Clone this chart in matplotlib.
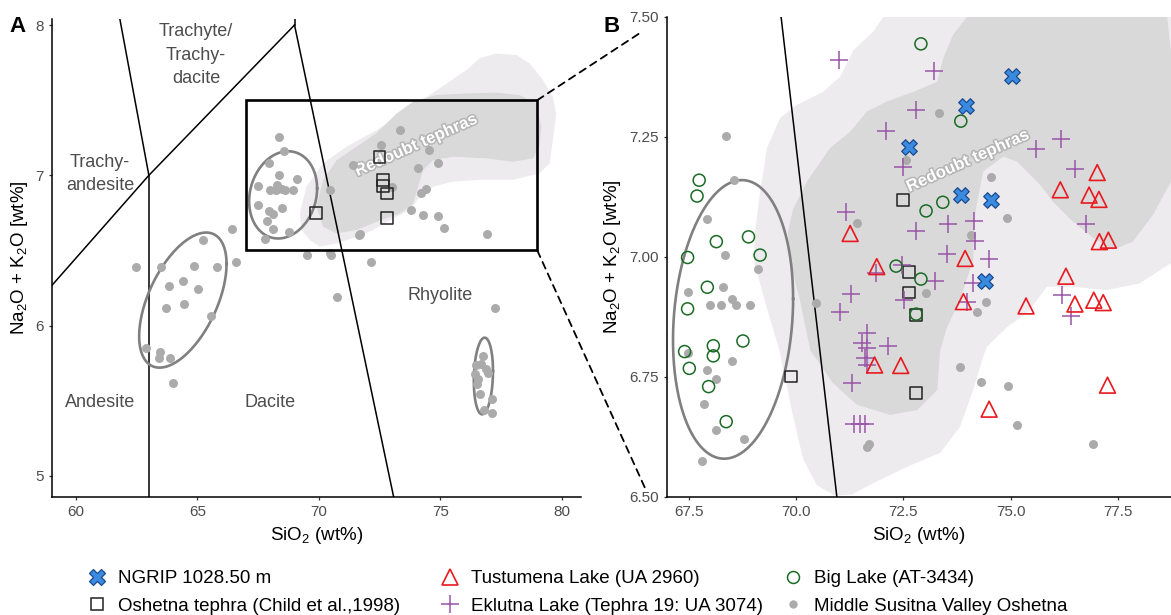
import numpy as np
import matplotlib
matplotlib.use('Agg')
import matplotlib.pyplot as plt
from matplotlib.patches import Polygon, Rectangle, ConnectionPatch
from matplotlib.lines import Line2D
import matplotlib.patheffects as pe

plt.rcParams['font.family'] = ['Liberation Sans', 'DejaVu Sans']
plt.rcParams['mathtext.default'] = 'regular'

# ---- data ----
ngrip_x = [75.03, 73.95, 72.64, 73.84, 74.54, 74.40]
ngrip_y = [7.377, 7.315, 7.229, 7.129, 7.119, 6.949]

oshetna_x = [72.50, 72.63, 72.64, 72.80, 72.80, 69.88]
oshetna_y = [7.119, 6.968, 6.926, 6.879, 6.717, 6.751]

tust_x = [77.02, 76.16, 76.83, 77.06, 71.26, 77.07, 77.28, 73.94, 71.88, 76.29,
          73.90, 75.36, 76.50, 76.94, 77.16, 71.83, 72.44, 77.26, 74.50]
tust_y = [7.176, 7.140, 7.129, 7.120, 7.049, 7.032, 7.035, 6.997, 6.980, 6.960,
          6.907, 6.898, 6.902, 6.910, 6.905, 6.775, 6.774, 6.733, 6.683]

eklutna_x = [71.01, 73.21, 72.79, 72.09, 72.50, 75.59, 76.17, 76.50, 71.16, 72.80,
             73.53, 74.15, 74.17, 73.51, 74.50, 76.77, 72.48, 71.86, 73.24, 74.13,
             72.52, 73.98, 71.28, 71.03, 71.65, 71.53, 72.15, 71.65, 71.61, 71.65,
             71.31, 71.34, 71.50, 71.60, 76.19, 76.41]
eklutna_y = [7.410, 7.388, 7.306, 7.263, 7.188, 7.224, 7.246, 7.183, 7.094, 7.055,
             7.069, 7.076, 7.034, 7.006, 6.996, 7.068, 6.983, 6.966, 6.951, 6.945,
             6.910, 6.907, 6.922, 6.886, 6.842, 6.820, 6.815, 6.810, 6.789, 6.775,
             6.737, 6.653, 6.653, 6.653, 6.921, 6.877]

biglake_x = [72.91, 73.84, 73.42, 73.03, 72.33, 72.91, 72.80, 67.74, 67.69, 68.14,
             68.89, 67.47, 69.16, 67.93, 67.47, 68.76, 68.07, 68.07, 67.40, 67.51,
             67.96, 68.37]
biglake_y = [7.444, 7.283, 7.114, 7.096, 6.981, 6.954, 6.881, 7.160, 7.127, 7.032,
             7.042, 6.999, 7.004, 6.937, 6.892, 6.825, 6.815, 6.794, 6.803, 6.768,
             6.730, 6.657]

susitna_x = [68.37, 68.56, 67.93, 71.41, 68.35, 69.12, 67.48, 68.29, 68.00, 68.25,
             68.50, 68.60, 68.93, 70.47, 67.48, 68.50, 67.93, 68.13, 67.86, 68.13,
             68.79, 67.80, 71.65, 71.71, 73.02, 74.42, 74.21, 73.81, 74.31, 74.93,
             75.14, 76.93, 73.34, 72.56, 74.54, 74.91, 74.08,
             62.46, 63.50, 64.87, 65.79, 66.58, 64.39, 63.84, 65.01, 63.69, 64.44,
             65.56, 62.87, 63.46, 63.43, 63.87, 63.98, 66.41, 65.24, 69.53, 70.49,
             70.45, 72.14, 70.75, 77.27,
             76.76, 76.49, 76.69, 76.90, 76.97, 76.42, 76.56, 76.53, 76.65, 77.13,
             76.79, 77.13]
susitna_y = [7.252, 7.160, 7.079, 7.071, 7.004, 6.975, 6.928, 6.938, 6.901, 6.901,
             6.912, 6.901, 6.901, 6.904, 6.800, 6.784, 6.765, 6.745, 6.694, 6.640,
             6.621, 6.576, 6.605, 6.610, 6.924, 6.906, 6.885, 6.770, 6.739, 6.732,
             6.650, 6.610, 7.300, 7.202, 7.166, 7.081, 7.046,
             6.388, 6.392, 6.398, 6.388, 6.421, 6.300, 6.264, 6.242, 6.115, 6.144,
             6.064, 5.853, 5.826, 5.786, 5.786, 5.620, 6.640, 6.570, 6.467, 6.467,
             6.480, 6.425, 6.190, 6.120,
             5.795, 5.735, 5.746, 5.713, 5.684, 5.675, 5.646, 5.613, 5.547, 5.509,
             5.436, 5.420]

# stat ellipses: centre x, centre y, shape terms
ell_cx = [64.40, 68.53, 76.78]
ell_cy = [6.170, 6.870, 5.665]
ell_l11 = [1.80, 1.40, 0.395]
ell_l21 = [0.24, 0.043, 0.033]
ell_l22 = [0.38, 0.287, 0.253]

# Redoubt tephra density contours (panel A)
denA_light_x = [69.22, 69.49, 70.18, 71.14, 72.37, 73.61, 74.43, 75.26, 76.08, 76.63,
                77.31, 78.14, 78.68, 79.23, 79.64, 79.78, 79.64, 79.51, 79.09, 78.00,
                76.63, 75.53, 74.70, 74.16, 73.74, 72.92, 72.23, 71.55, 70.73, 70.04,
                69.63, 69.29]
denA_light_y = [6.747, 6.924, 7.080, 7.190, 7.300, 7.435, 7.520, 7.610, 7.700, 7.780,
                7.810, 7.800, 7.745, 7.634, 7.523, 7.410, 7.235, 7.080, 7.013, 6.970,
                6.970, 6.958, 6.924, 6.858, 6.770, 6.700, 6.636, 6.590, 6.548, 6.525,
                6.570, 6.636]
denA_dark_x = [69.90, 70.18, 70.73, 71.55, 72.37, 73.20, 73.88, 74.84, 76.08, 77.31,
               78.27, 78.96, 79.16, 79.09, 78.82, 78.00, 76.90, 75.53, 74.70, 74.29,
               74.09, 73.88, 73.33, 72.37, 71.55, 70.73, 70.18]
denA_dark_y = [6.791, 6.969, 7.100, 7.190, 7.280, 7.410, 7.490, 7.534, 7.545, 7.550,
               7.534, 7.480, 7.323, 7.190, 7.113, 7.090, 7.113, 7.124, 7.100, 7.035,
               6.924, 6.810, 6.747, 6.690, 6.636, 6.614, 6.658]

# Redoubt tephra density contours (panel B)
denB_light_x = [72.03, 71.80, 71.33, 71.03, 70.63, 70.02, 69.63, 69.32, 69.16, 69.04,
                69.02, 69.33, 69.61, 69.90, 70.16, 70.48, 70.90, 71.30, 71.80, 72.59,
                73.36, 73.82, 74.13, 74.36, 74.45, 74.92, 75.38, 75.85, 76.45, 77.24,
                78.01, 78.74, 79.50, 79.50, 72.00]
denB_light_y = [7.500, 7.470, 7.430, 7.376, 7.344, 7.317, 7.290, 7.227, 7.135, 7.052,
                6.990, 6.890, 6.806, 6.680, 6.580, 6.525, 6.503, 6.505, 6.529, 6.563,
                6.592, 6.646, 6.723, 6.792, 6.813, 6.854, 6.883, 6.938, 6.938, 6.931,
                6.945, 6.987, 6.990, 7.600, 7.600]
denB_dark_x = [73.98, 73.66, 73.43, 73.29, 72.73, 72.12, 71.65, 71.26, 70.79, 70.25,
               69.93, 69.81, 69.86, 70.09, 70.33, 70.86, 71.42, 72.19, 72.82, 73.29,
               73.36, 73.52, 73.82, 74.13, 74.17, 74.36, 74.83, 75.15, 75.69, 75.99,
               76.45, 76.92, 77.39, 77.85, 78.32, 78.74, 78.90, 78.65, 78.60, 74.00]
denB_dark_y = [7.500, 7.463, 7.414, 7.365, 7.344, 7.324, 7.303, 7.261, 7.227, 7.157,
               7.100, 7.053, 6.990, 6.910, 6.806, 6.737, 6.692, 6.671, 6.681, 6.723,
               6.806, 6.854, 6.910, 6.994, 7.088, 7.178, 7.209, 7.199, 7.150, 7.115,
               7.074, 7.040, 7.015, 7.032, 7.088, 7.157, 7.300, 7.500, 7.600, 7.600]

# TAS boundaries
tas_lines = [
    ([63.0, 63.0], [4.0, 7.0]),
    ([63.0, 57.6], [7.0, 11.7]),
    ([57.0, 63.0, 69.0], [5.9, 7.0, 8.0]),
    ([69.0, 69.0], [8.0, 12.0]),
    ([69.0, 73.2], [8.0, 4.77]),
]
tas_labels = ['Trachyte/\nTrachy-\ndacite', 'Trachy-\nandesite', 'Andesite', 'Dacite', 'Rhyolite']
tas_label_x = [64.94, 60.99, 60.99, 67.98, 74.98]
tas_label_y = [7.80, 7.01, 5.49, 5.49, 6.20]

zoom_box = (67.0, 6.5, 79.0, 7.5)

legend_labels = [['NGRIP 1028.50 m', 'Oshetna tephra (Child et al.,1998)'],
                 ['Tustumena Lake (UA 2960)', 'Eklutna Lake (Tephra 19: UA 3074)'],
                 ['Big Lake (AT-3434)', 'Middle Susitna Valley Oshetna']]

LIGHT = '#eeebef'
DARK = '#d9d9d9'
GRAY = '#ababab'
ELL = '#808080'
TXT = '#4d4d4d'


def draw_density(ax, lx, ly, dx, dy):
    ax.add_patch(Polygon(np.column_stack([lx, ly]), closed=True, fc=LIGHT, ec='none', zorder=0))
    ax.add_patch(Polygon(np.column_stack([dx, dy]), closed=True, fc=DARK, ec='none', zorder=0.5))


def draw_ellipse(ax, i):
    t = np.linspace(0, 2 * np.pi, 300)
    x = ell_cx[i] + ell_l11[i] * np.cos(t)
    y = ell_cy[i] + ell_l21[i] * np.cos(t) + ell_l22[i] * np.sin(t)
    ax.plot(x, y, color=ELL, lw=1.9, zorder=2)


def style(ax):
    for s in ['top', 'right']:
        ax.spines[s].set_visible(False)
    for s in ['left', 'bottom']:
        ax.spines[s].set_linewidth(1.1)
    ax.tick_params(length=2.5, width=0.9, color='#333333', labelcolor=TXT, labelsize=11)
    ax.set_xlabel(r'SiO$_2$ (wt%)', fontsize=13.5)
    ax.set_ylabel(r'Na$_2$O + K$_2$O [wt%]', fontsize=13.5)


def redoubt_label(ax):
    ax.text(74.0, 7.2, 'Redoubt tephras', rotation=24, ha='center', va='center',
            fontsize=12, fontweight='bold', color='white', zorder=1,
            path_effects=[pe.withStroke(linewidth=2.2, foreground='#b5b5b5')])


W, H = 1171, 615
fig = plt.figure(figsize=(W / 100, H / 100), dpi=100)
axA = fig.add_axes([52 / W, 1 - 497 / H, (581 - 52) / W, (497 - 19) / H])
axB = fig.add_axes([667 / W, 1 - 497 / H, (1171 - 667) / W, (497 - 17) / H])

# ---- panel A ----
draw_density(axA, denA_light_x, denA_light_y, denA_dark_x, denA_dark_y)
for xs, ys in tas_lines:
    axA.plot(xs, ys, color='black', lw=1.1, zorder=1.5)
for lab, x, y in zip(tas_labels, tas_label_x, tas_label_y):
    axA.text(x, y, lab, ha='center', va='center', fontsize=13, color=TXT, linespacing=1.5)
redoubt_label(axA)
for i in range(3):
    draw_ellipse(axA, i)
axA.scatter(susitna_x, susitna_y, s=42, color=GRAY, lw=0, zorder=3)
axA.scatter(oshetna_x, oshetna_y, s=74, marker='s', facecolor='none', edgecolor='#222222', lw=1.1, zorder=4)
axA.add_patch(Rectangle((zoom_box[0], zoom_box[1]), zoom_box[2] - zoom_box[0], zoom_box[3] - zoom_box[1],
                        fill=False, ec='black', lw=1.9, zorder=5))
axA.set_xlim(59.01, 80.8)
axA.set_ylim(4.86, 8.04)
axA.set_xticks([60, 65, 70, 75, 80])
axA.set_yticks([5, 6, 7, 8])
style(axA)

# ---- panel B ----
draw_density(axB, denB_light_x, denB_light_y, denB_dark_x, denB_dark_y)
for xs, ys in tas_lines:
    axB.plot(xs, ys, color='black', lw=1.1, zorder=1.5)
redoubt_label(axB)
draw_ellipse(axB, 1)
axB.scatter(susitna_x, susitna_y, s=42, color=GRAY, lw=0, zorder=3)
axB.scatter(oshetna_x, oshetna_y, s=74, marker='s', facecolor='none', edgecolor='#222222', lw=1.1, zorder=4)
axB.scatter(eklutna_x, eklutna_y, s=180, marker='+', color='#9a55a8', lw=1.1, zorder=4)
axB.scatter(biglake_x, biglake_y, s=75, marker='o', facecolor='none', edgecolor='#1a6b24', lw=1.1, zorder=4)
axB.scatter(tust_x, tust_y, s=130, marker='^', facecolor='none', edgecolor='#e8191f', lw=1.2, zorder=4)
axB.scatter(ngrip_x, ngrip_y, s=125, marker='X', facecolor='#3a8be0', edgecolor='#1a4a8f', lw=0.9, zorder=5)
axB.set_xlim(66.99, 78.74)
axB.set_ylim(6.5, 7.5)
axB.set_xticks([67.5, 70.0, 72.5, 75.0, 77.5])
axB.set_yticks([6.5, 6.75, 7.0, 7.25, 7.5])
axB.xaxis.set_major_formatter(matplotlib.ticker.FormatStrFormatter('%.1f'))
axB.yaxis.set_major_formatter(matplotlib.ticker.FormatStrFormatter('%.2f'))
style(axB)

# dashed zoom connectors
for corner, end in [((zoom_box[2], zoom_box[3]), (640, 33)), ((zoom_box[2], zoom_box[1]), (645, 488))]:
    con = ConnectionPatch(xyA=corner, coordsA='data', axesA=axA,
                          xyB=(end[0] / W, 1 - end[1] / H), coordsB=fig.transFigure,
                          ls=(0, (4, 3)), lw=1.3, color='black')
    fig.add_artist(con)

fig.text(18 / W, 1 - 27 / H, 'A', fontsize=16, fontweight='bold', ha='center', va='center')
fig.text(612 / W, 1 - 27 / H, 'B', fontsize=16, fontweight='bold', ha='center', va='center')

# legend, one column at a time
legend_handles = [
    [Line2D([], [], ls='none', marker='X', ms=11.5, mfc='#3a8be0', mec='#1a4a8f', mew=0.9),
     Line2D([], [], ls='none', marker='s', ms=8.6, mfc='none', mec='#222222', mew=1.1)],
    [Line2D([], [], ls='none', marker='^', ms=11.5, mfc='none', mec='#e8191f', mew=1.2),
     Line2D([], [], ls='none', marker='+', ms=13, color='#9a55a8', mew=1.1)],
    [Line2D([], [], ls='none', marker='o', ms=8.6, mfc='none', mec='#1a6b24', mew=1.1),
     Line2D([], [], ls='none', marker='o', ms=6.0, mfc=GRAY, mec='none')],
]
for hs, labs, x0 in zip(legend_handles, legend_labels, [87.6, 440.6, 783.6]):
    fig.legend(hs, labs, loc='upper left', bbox_to_anchor=(x0 / W, 1 - 570 / H),
               frameon=False, fontsize=13.5, handlelength=1.0, handletextpad=0.6,
               labelspacing=0.57, borderpad=0, borderaxespad=0)

fig.savefig('out.png', dpi=100)
